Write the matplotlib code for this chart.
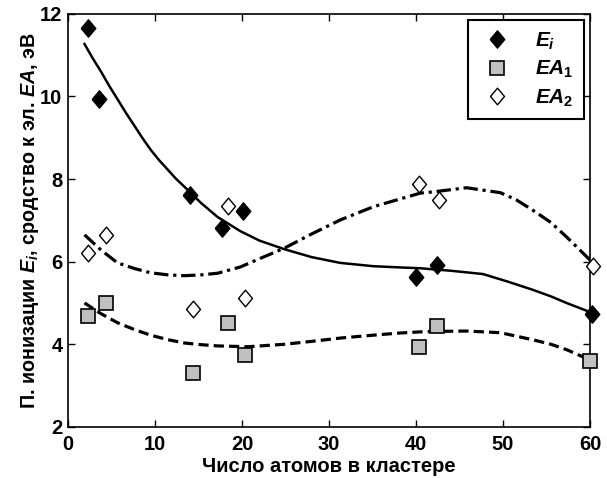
import matplotlib
matplotlib.use('Agg')
import matplotlib.pyplot as plt

plt.rcParams.update({
    'font.family': 'Liberation Sans',
    'font.weight': 'bold',
    'mathtext.fontset': 'custom',
    'mathtext.rm': 'Liberation Sans:bold',
    'mathtext.it': 'Liberation Sans:bold:italic',
    'mathtext.bf': 'Liberation Sans:bold',
})

# measured points
ei_x = [2.3, 3.6, 14.0, 17.7, 20.1, 40.0, 42.4, 60.2]
ei_y = [11.66, 9.95, 7.62, 6.82, 7.23, 5.63, 5.92, 4.74]

ea1_x = [2.3, 4.4, 14.4, 18.4, 20.3, 40.3, 42.4, 60.0]
ea1_y = [4.69, 5.00, 3.31, 4.52, 3.74, 3.94, 4.45, 3.60]

ea2_x = [2.3, 4.4, 14.4, 18.4, 20.3, 40.3, 42.6, 60.3]
ea2_y = [6.21, 6.65, 4.86, 7.35, 5.12, 7.88, 7.50, 5.90]

# fitted trend curves
fit_ei_x = [1.9, 2.8, 3.8, 4.7, 5.7, 6.7, 7.7, 8.6, 9.5, 10.5, 11.5, 12.4, 13.4, 15.3,
            17.2, 19.8, 22.0, 24.9, 28.0, 31.3, 35.1, 38.2, 40.5, 44.0, 47.7, 50.5,
            53.4, 55.5, 57.3, 60.0]
fit_ei_y = [11.27, 10.94, 10.60, 10.27, 9.93, 9.59, 9.27, 8.98, 8.71, 8.45, 8.22, 8.01,
            7.81, 7.42, 7.08, 6.74, 6.51, 6.30, 6.11, 5.97, 5.89, 5.86, 5.84, 5.78,
            5.70, 5.52, 5.32, 5.16, 5.00, 4.78]

fit_ea1_x = [1.9, 3.8, 5.7, 7.7, 9.5, 11.5, 13.4, 15.3, 17.2, 20.7, 24.9, 28.0,
             31.3, 35.1, 38.0, 40.5, 42.0, 45.8, 49.7, 53.4, 55.5, 57.3, 60.0]
fit_ea1_y = [5.00, 4.74, 4.52, 4.35, 4.22, 4.11, 4.03, 3.99, 3.96, 3.94, 4.00, 4.07,
             4.15, 4.22, 4.27, 4.30, 4.31, 4.32, 4.28, 4.11, 4.00, 3.87, 3.62]

fit_ea2_x = [1.9, 3.8, 5.7, 7.7, 9.5, 11.5, 13.4, 15.3, 17.2, 19.8, 22.0, 24.9,
             28.0, 31.3, 35.1, 38.2, 40.5, 42.0, 45.8, 49.7, 51.5, 53.4, 55.5, 57.3, 60.0]
fit_ea2_y = [6.65, 6.28, 5.97, 5.83, 5.73, 5.68, 5.66, 5.68, 5.72, 5.87, 6.07, 6.33,
             6.67, 7.01, 7.33, 7.52, 7.66, 7.69, 7.79, 7.67, 7.50, 7.25, 6.95, 6.60, 6.04]

xticks = [0, 10, 20, 30, 40, 50, 60]
yticks = [2, 4, 6, 8, 10, 12]

diamond = [(-0.42, 0.0), (0.0, 0.5), (0.42, 0.0), (0.0, -0.5), (-0.42, 0.0)]

fig = plt.figure(figsize=(6.07, 4.78), dpi=100)
ax = fig.add_axes([0.112, 0.107, 0.860, 0.864])

ax.plot(fit_ei_x, fit_ei_y, color='black', lw=1.8, ls='-', zorder=2)
ax.plot(fit_ea1_x, fit_ea1_y, color='black', lw=2.3, ls=(0, (3.2, 1.6)), zorder=2)
ax.plot(fit_ea2_x, fit_ea2_y, color='black', lw=2.3, ls=(0, (4.5, 1.5, 1.0, 1.5)), zorder=2)

ax.plot(ei_x, ei_y, ls='none', marker=diamond, ms=12.5, mfc='black', mec='black',
        mew=1.0, label=r'$\mathit{E_i}$', zorder=3, clip_on=False)
ax.plot(ea1_x, ea1_y, ls='none', marker='s', ms=10, mfc='#c0c0c0', mec='black',
        mew=1.2, label=r'$\mathit{EA_1}$', zorder=3, clip_on=False)
ax.plot(ea2_x, ea2_y, ls='none', marker=diamond, ms=12, mfc='white', mec='black',
        mew=1.0, label=r'$\mathit{EA_2}$', zorder=3, clip_on=False)

ax.set_xlim(0, 60)
ax.set_ylim(2, 12)
ax.set_xticks(xticks)
ax.set_yticks(yticks)
ax.tick_params(direction='in', top=True, right=True, length=5, width=1,
               labelsize=14.5)
ax.tick_params(axis='x', pad=6)
ax.tick_params(axis='y', pad=4)
for s in ax.spines.values():
    s.set_linewidth(1.2)

ax.set_xlabel('Число атомов в кластере', fontsize=14.5, fontweight='bold', labelpad=2)
ax.set_ylabel(r'П. ионизации $\mathit{E_i}$, сродство к эл. $\mathit{EA}$, эВ',
              fontsize=14.2, fontweight='bold', labelpad=-1)

leg = ax.legend(loc='upper right', bbox_to_anchor=(0.988, 0.985), borderaxespad=0,
                fontsize=15, frameon=True, fancybox=False, edgecolor='black',
                framealpha=1, handletextpad=0.9, borderpad=0.5, labelspacing=0.35,
                handlelength=1.8)
leg.get_frame().set_linewidth(1.5)

fig.savefig('out.png', dpi=100)
